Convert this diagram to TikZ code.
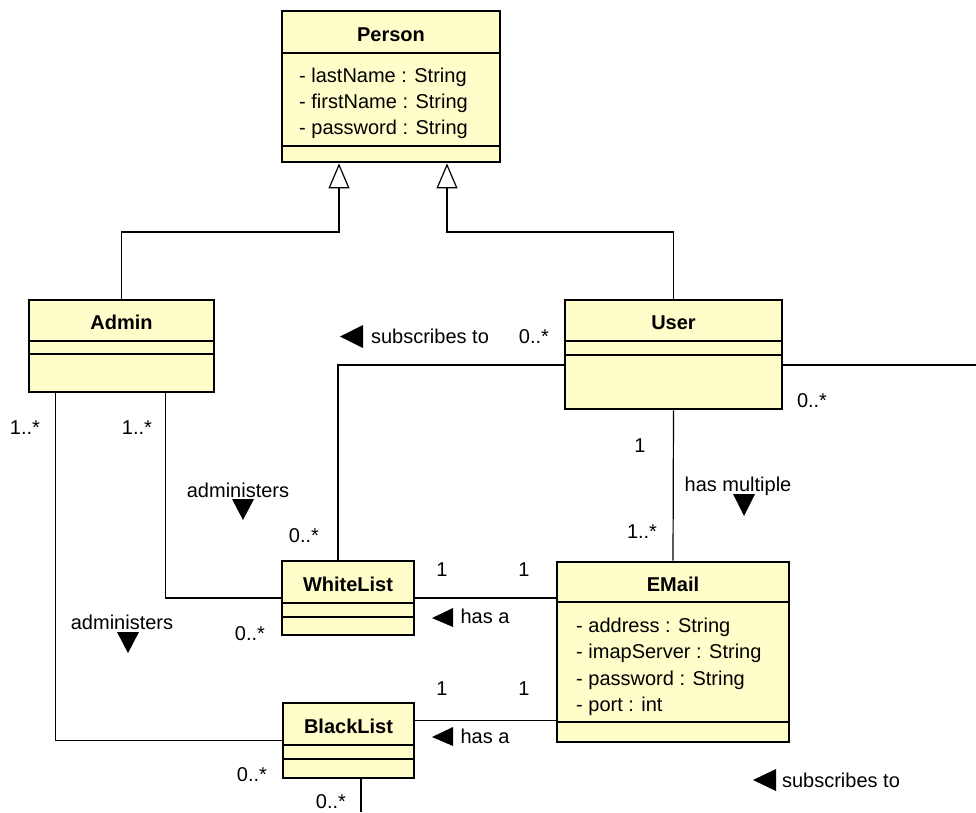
\documentclass[tikz,border=0pt]{standalone}
\usepackage{fontspec}
\setmainfont{Liberation Sans}
\usetikzlibrary{arrows.meta}

\definecolor{classfill}{RGB}{255,253,201}

\begin{document}
\begin{tikzpicture}[x=1pt,y=-1pt,
  classbox/.style={draw,line width=2.8pt,fill=classfill,inner sep=0pt},
  sep/.style={line width=1.2pt},
  cname/.style={font=\fontsize{20}{24}\selectfont\bfseries,anchor=base,inner sep=0pt},
  attr/.style={font=\fontsize{20}{24}\selectfont,anchor=base west,inner sep=0pt},
  lbl/.style={font=\fontsize{20}{24}\selectfont,anchor=base,inner sep=0pt},
  assoc/.style={line width=1.2pt},
  gen/.style={line width=1.2pt,-{Triangle[open,length=25pt,width=21pt,line width=1.2pt]}}]
  \useasboundingbox (0,0) rectangle (976,812);

  % classes
  \node [classbox,minimum width=218pt,minimum height=151pt] (person) at (391,86.5) {};
  \node [classbox,minimum width=185pt,minimum height=92pt] (admin) at (121.5,346) {};
  \node [classbox,minimum width=217pt,minimum height=109pt] (user) at (673.5,354.5) {};
  \node [classbox,minimum width=132pt,minimum height=74pt] (whitelist) at (348,598) {};
  \node [classbox,minimum width=232pt,minimum height=180pt] (email) at (673,652) {};
  \node [classbox,minimum width=131pt,minimum height=75pt] (blacklist) at (348.5,740.5) {};

  % compartments
  \draw [sep] (person.west |- 0,53) -- (person.east |- 0,53);
  \draw [sep] (person.west |- 0,146) -- (person.east |- 0,146);
  \draw [sep] (admin.west |- 0,341) -- (admin.east |- 0,341);
  \draw [sep] (admin.west |- 0,354) -- (admin.east |- 0,354);
  \draw [sep] (user.west |- 0,341) -- (user.east |- 0,341);
  \draw [sep] (user.west |- 0,355) -- (user.east |- 0,355);
  \draw [sep] (whitelist.west |- 0,603) -- (whitelist.east |- 0,603);
  \draw [sep] (whitelist.west |- 0,617) -- (whitelist.east |- 0,617);
  \draw [sep] (email.west |- 0,602) -- (email.east |- 0,602);
  \draw [sep] (email.west |- 0,722) -- (email.east |- 0,722);
  \draw [sep] (blacklist.west |- 0,745) -- (blacklist.east |- 0,745);
  \draw [sep] (blacklist.west |- 0,759) -- (blacklist.east |- 0,759);

  \node [cname] (person-name) at (391,41) {Person};
  \node [attr] (person-a1) at (299,82) {- lastName : String};
  \node [attr] (person-a2) at (299,108) {- firstName : String};
  \node [attr] (person-a3) at (299,134) {- password : String};
  \node [cname] (admin-name) at (121.5,329) {Admin};
  \node [cname] (user-name) at (673.5,329) {User};
  \node [cname] (whitelist-name) at (348,591) {WhiteList};
  \node [cname] (email-name) at (673,591) {EMail};
  \node [attr] (email-a1) at (576,632) {- address : String};
  \node [attr] (email-a2) at (576,658) {- imapServer : String};
  \node [attr] (email-a3) at (576,685) {- password : String};
  \node [attr] (email-a4) at (576,711) {- port : int};
  \node [cname] (blacklist-name) at (348.5,733) {BlackList};

  % generalizations
  \coordinate (genleft) at (339,232);
  \coordinate (genright) at (447,232);
  \draw [gen] (admin.north) |- (genleft) -- (genleft |- person.south);
  \draw [gen] (user.north) |- (genright) -- (genright |- person.south);

  % associations
  \coordinate (offright) at (976,365);
  \coordinate (offbottom) at (361,812);
  \draw [assoc] ([xshift=28pt]admin.south west) |- (blacklist.west);
  \draw [assoc] ([xshift=138pt]admin.south west) |- (whitelist.west);
  \draw [assoc] ([yshift=-10.5pt]user.west) -| ([xshift=-10pt]whitelist.north);
  \draw [assoc] (user.south) -- (email.north);
  \draw [assoc] (whitelist.east) -- (whitelist.east -| email.west);
  \draw [assoc] ([yshift=20pt]blacklist.east) -- ([yshift=20pt]blacklist.east -| email.west);
  \draw [assoc] ([yshift=-10.5pt]user.east) -- (offright);
  \draw [assoc] ([xshift=12.5pt]blacklist.south) -- (offbottom);

  % multiplicities and names
  \node [lbl] (m-admin-bl) at (25,434) {1..*};
  \node [lbl] (m-admin-wl) at (137,434) {1..*};
  \node [lbl] (adm-wl) at (238,497) {administers};
  \fill (232,499) -- (254,499) -- (243,520) -- cycle;
  \node [lbl] (adm-bl) at (122,629) {administers};
  \fill (117,632) -- (139,632) -- (128,653) -- cycle;
  \node [lbl] (m-wl-admin) at (250,640) {0..*};
  \node [lbl] (m-bl-admin) at (252,781) {0..*};
  \node [lbl] (m-wl-user) at (304,542) {0..*};
  \node [lbl] (sub-wl) at (430,343) {subscribes to};
  \fill (340,336.5) -- (363,325) -- (363,348) -- cycle;
  \node [lbl] (m-user-wl) at (534,343) {0..*};
  \node [lbl] (m-user-bl) at (812,407) {0..*};
  \node [lbl] (m-user-em) at (640,452) {1};
  \node [lbl] (has-mult) at (738,491) {has multiple};
  \fill (733,494) -- (755,494) -- (744,516) -- cycle;
  \node [lbl] (m-em-user) at (642,538) {1..*};
  \node [lbl] (m-wl-em) at (442,576) {1};
  \node [lbl] (m-em-wl) at (524,576) {1};
  \node [lbl] (hasa-wl) at (485,623) {has a};
  \fill (432,618) -- (453,608) -- (453,627) -- cycle;
  \node [lbl] (m-bl-em) at (442,695) {1};
  \node [lbl] (m-em-bl) at (524,695) {1};
  \node [lbl] (hasa-bl) at (485,743) {has a};
  \fill (432,737) -- (453,727) -- (453,746) -- cycle;
  \node [lbl] (m-bl-user) at (331,808) {0..*};
  \node [lbl] (sub-bl) at (841,787) {subscribes to};
  \fill (753,780) -- (776,769) -- (776,791) -- cycle;
\end{tikzpicture}
\end{document}
